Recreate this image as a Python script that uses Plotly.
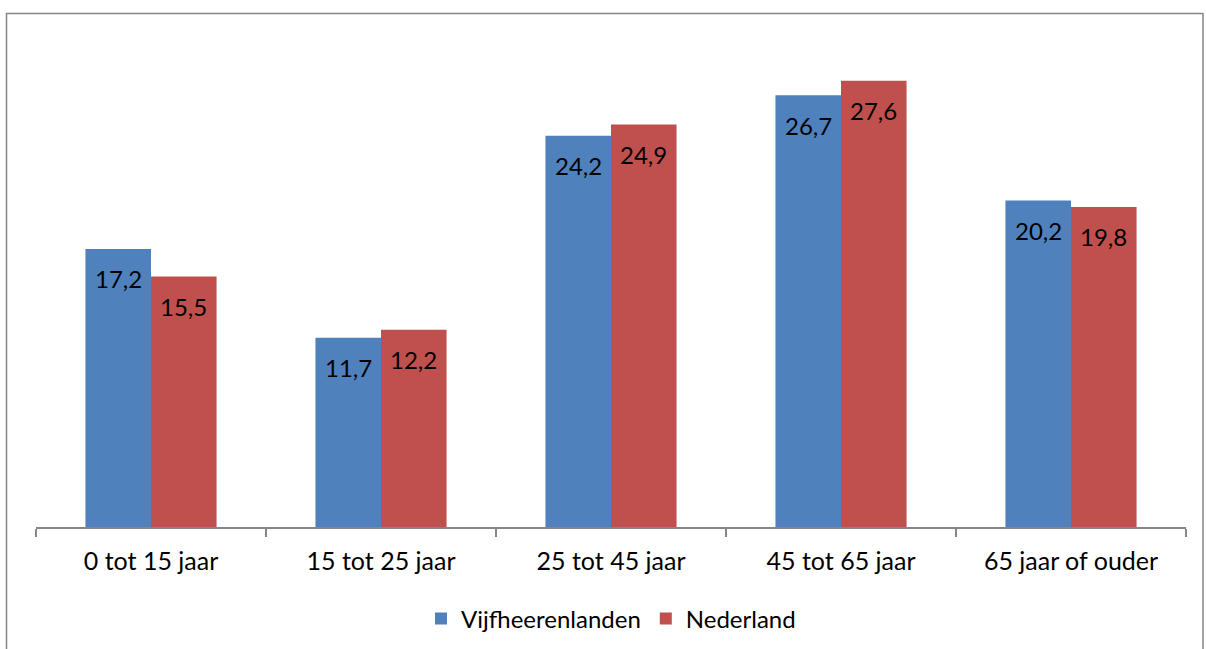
import plotly.graph_objects as go

categories = ["0 tot 15 jaar", "15 tot 25 jaar", "25 tot 45 jaar", "45 tot 65 jaar", "65 jaar of ouder"]
vijfheerenlanden = [17.2, 11.7, 24.2, 26.7, 20.2]
nederland = [15.5, 12.2, 24.9, 27.6, 19.8]
series_names = ["Vijfheerenlanden", "Nederland"]
colors = ["#4F81BD", "#C0504D"]

FONT = "Lato"
W, H = 1206, 649
PL, PR, PT, PB = 36, 1186, 42, 527
PW, PH = PR - PL, PB - PT

fig = go.Figure()
for name, vals, col in zip(series_names, [vijfheerenlanden, nederland], colors):
    fig.add_trace(go.Bar(x=categories, y=vals, name=name, marker=dict(color=col, line=dict(width=0))))

def fmt(v):
    return f"{v:.1f}".replace(".", ",")

annotations = []
for i, vals in enumerate([vijfheerenlanden, nederland]):
    shift = -32.75 if i == 0 else 32.75
    for c, v in zip(categories, vals):
        annotations.append(dict(x=c, y=v, xref="x", yref="y", text=fmt(v), showarrow=False,
                                xshift=shift, yshift=-30, font=dict(family=FONT, size=24, color="black")))

fig.update_layout(
    width=W, height=H,
    margin=dict(l=PL, r=W - PR, t=PT, b=H - PB, autoexpand=False),
    paper_bgcolor="white", plot_bgcolor="white",
    barmode="group", bargap=0.43, bargroupgap=0,
    showlegend=True,
    legend=dict(orientation="h", x=0.5, xanchor="center", y=(PB - 619) / PH, yanchor="middle",
                font=dict(family=FONT, size=24, color="black"), traceorder="normal"),
    xaxis=dict(showline=True, linecolor="#868686", linewidth=1.5, ticks="outside", tickson="boundaries",
               ticklen=8, tickcolor="#868686", tickwidth=1.5, ticklabelstandoff=11, automargin=False,
               tickfont=dict(family=FONT, size=25, color="black"), showgrid=False),
    yaxis=dict(range=[0, 30], visible=False, showgrid=False, automargin=False),
    annotations=annotations,
    shapes=[dict(type="rect", xref="paper", yref="paper",
                 x0=(6.5 - PL) / PW, x1=(1203 - PL) / PW,
                 y0=(PB - 660) / PH, y1=(PB - 13.5) / PH,
                 line=dict(color="#868686", width=1.5), fillcolor="rgba(0,0,0,0)", layer="below")],
)
fig.write_html("out.html", config={"displayModeBar": False},
               post_script="document.body.style.margin='0';document.body.style.overflow='hidden';")
